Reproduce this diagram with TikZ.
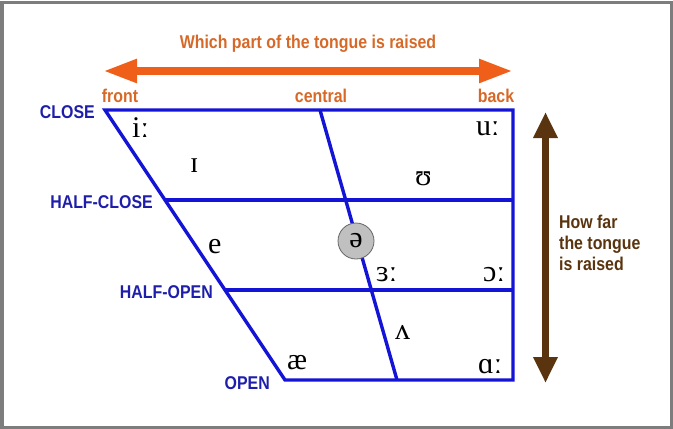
\documentclass[tikz,border=0pt]{standalone}
\usepackage{fontspec}
\newfontfamily\labelfont[FakeStretch=0.86]{Liberation Sans}
\newfontfamily\ipafont{Liberation Serif}
\usetikzlibrary{arrows.meta, positioning, calc}
\definecolor{chartblue}{RGB}{20,20,215}
\definecolor{labelblue}{RGB}{30,30,170}
\definecolor{tonguearr}{RGB}{240,95,25}
\definecolor{tonguetxt}{RGB}{215,105,40}
\definecolor{heightbrn}{RGB}{90,52,15}
\definecolor{framegray}{RGB}{125,125,125}
\definecolor{schwafill}{RGB}{192,192,192}
\tikzset{
  chartline/.style={draw=chartblue, line width=3.4pt, line join=miter},
  level/.style={font=\labelfont\bfseries\fontsize{18.5}{21}\selectfont, text=labelblue,
    inner sep=0pt, anchor=east},
  part/.style={font=\labelfont\bfseries\fontsize{18.5}{21}\selectfont, text=tonguetxt,
    inner sep=0pt},
  vowel/.style={font=\ipafont\fontsize{30}{30}\selectfont, inner sep=0pt, anchor=base west},
  schwa/.style={circle, draw=black!60, fill=schwafill, line width=0.8pt,
    minimum size=36pt, inner sep=0pt, font=\ipafont\fontsize{30}{30}\selectfont},
  widearr/.style={{Triangle[length=34pt,width=22pt]}-{Triangle[length=34pt,width=22pt]},
    line width=8pt, tonguearr},
  higharr/.style={{Triangle[length=26pt,width=23pt]}-{Triangle[length=26pt,width=23pt]},
    line width=7pt, heightbrn},
}

\begin{document}
\begin{tikzpicture}[x=1pt, y=-1pt]
\useasboundingbox (0,0) rectangle (673,429);
\draw[framegray, line width=3pt] (2,2) rectangle (671,427);

% corners of the chart
\coordinate (cl) at (105,110);
\coordinate (cr) at (513,110);
\coordinate (hcl) at (165,200);
\coordinate (hcr) at (513,200);
\coordinate (hol) at (225,290);
\coordinate (hor) at (513,290);
\coordinate (ol) at (285,380);
\coordinate (or) at (513,380);
\coordinate (ct) at (320,110);
\coordinate (cb) at (397,380);

\draw[chartline] (cl) -- (cr) -- (or) -- (ol) -- cycle;
\draw[chartline] (hcl) -- (hcr);
\draw[chartline] (hol) -- (hor);
\draw[chartline] (ct) -- (cb);

\node[level] (close) at ($(cl)+(-10,2)$) {CLOSE};
\node[level] (halfclose) at ($(hcl)+(-12,2)$) {HALF-CLOSE};
\node[level] (halfopen) at ($(hol)+(-12,2)$) {HALF-OPEN};
\node[level] (open) at ($(ol)+(-15,3)$) {OPEN};

% tongue position arrows
\node[part] (front) at (120,96) {front};
\node[part] (central) at (321,96) {central};
\node[part] (back) at (496,96) {back};
\node[part] (which) at (308,44) {Which part of the tongue is raised};
\coordinate (wl) at (103,71);
\coordinate (wr) at (513,71);
\draw[widearr] (wl) -- (wr);

\coordinate (ht) at (545.5,112);
\coordinate (hb) at (545.5,383);
\draw[higharr] (ht) -- (hb);
\node[part, text=heightbrn, align=left, anchor=west] (howfar) at (559,243)
  {How far\\the tongue\\is raised};

% vowels
\node[vowel] (ilong) at (132,137) {iː};
\node[vowel] (ishort) at (190,172) {ɪ};
\node[vowel] (ushort) at (415,185) {ʊ};
\node[vowel] (ulong) at (476,135) {uː};
\node[vowel] (eshort) at (208,253) {e};
\node[vowel] (ash) at (287,369) {æ};
\node[schwa] (schwa) at (356,241) {ə};
\node[vowel] (erlong) at (376,281) {ɜː};
\node[vowel] (olong) at (483,281) {ɔː};
\node[vowel] (wedge) at (395,339) {ʌ};
\node[vowel] (along) at (478,373) {ɑː};

\end{tikzpicture}
\end{document}
